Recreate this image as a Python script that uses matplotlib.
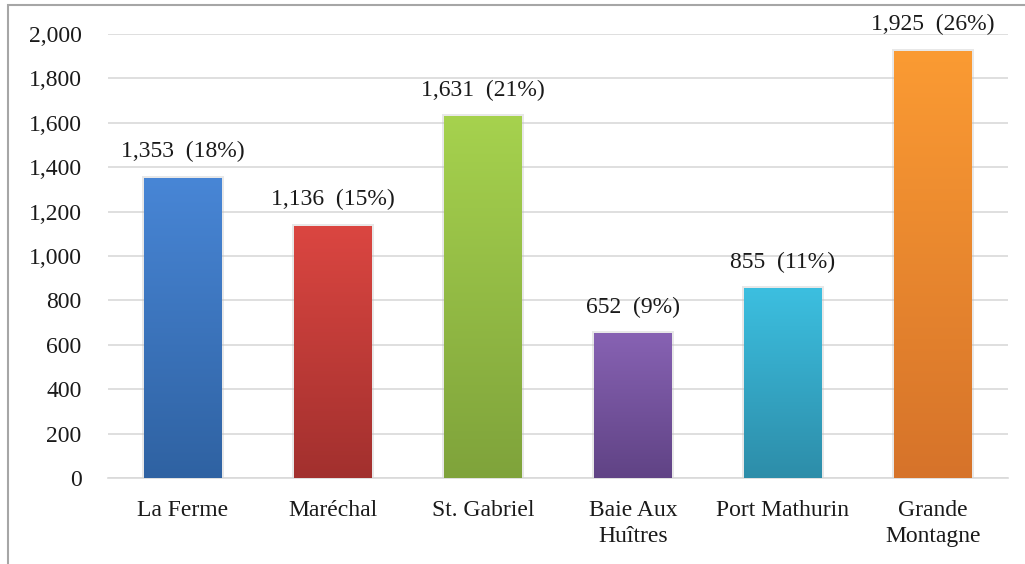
import numpy as np
import matplotlib.pyplot as plt
from matplotlib.colors import LinearSegmentedColormap
from matplotlib.patches import Rectangle
from matplotlib.ticker import FuncFormatter

plt.rcParams['font.family'] = ['Liberation Serif', 'DejaVu Serif']

sites = ['La Ferme', 'Maréchal', 'St. Gabriel', 'Baie Aux\nHuîtres', 'Port Mathurin', 'Grande\nMontagne']
counts = [1353, 1136, 1631, 652, 855, 1925]
shares = [18, 15, 21, 9, 11, 26]
top_colors = ['#4886d6', '#db4641', '#a6d24e', '#8762b3', '#3cbfe0', '#fb9b33']
bottom_colors = ['#2f62a2', '#a2302e', '#7fa33b', '#604385', '#2d8da9', '#d6732a']

fig = plt.figure(figsize=(10.25, 5.64), dpi=100)
ax = fig.add_axes([108 / 1025, 86 / 564, 900 / 1025, 444 / 564])

x = np.arange(len(sites))
width = 0.52
bars = ax.bar(x, counts, width=width, color='none', zorder=3)

# vertical gradient fill for each bar
for bar, c_top, c_bot in zip(bars, top_colors, bottom_colors):
    x0, w, h = bar.get_x(), bar.get_width(), bar.get_height()
    cmap = LinearSegmentedColormap.from_list('g', [c_bot, c_top])
    grad = np.linspace(0, 1, 256).reshape(-1, 1)
    im = ax.imshow(grad, cmap=cmap, origin='lower', aspect='auto',
                   extent=[x0, x0 + w, 0, h], zorder=3)
    im.set_clip_path(bar)
    # soft shadow
    ax.add_patch(Rectangle((x0 - 0.012, 0), w + 0.024, h + 8, facecolor='#bfbfbf',
                           alpha=0.35, edgecolor='none', zorder=2))

for xi, v, p in zip(x, counts, shares):
    ax.annotate(f'{v:,}  ({p}%)', (xi, v), xytext=(0, 11), textcoords='offset points',
                ha='center', va='bottom', fontsize=17, color='#1a1a1a',
                annotation_clip=False, zorder=4)

ax.set_xlim(-0.5, len(sites) - 0.5)
ax.set_ylim(0, 2000)
ax.set_yticks(np.arange(0, 2001, 200))
ax.yaxis.set_major_formatter(FuncFormatter(lambda v, _: f'{int(v):,}'))
ax.set_xticks(x)
ax.set_xticklabels(sites, fontsize=17, color='#1a1a1a', linespacing=1.3)
ax.tick_params(axis='y', labelsize=17, labelcolor='#1a1a1a', length=0, pad=19)
ax.tick_params(axis='x', length=0, pad=16)

ax.grid(axis='y', color='#d9d9d9', linewidth=1.2, zorder=0)
ax.set_axisbelow(True)
for side in ['top', 'right', 'left']:
    ax.spines[side].set_visible(False)
ax.spines['bottom'].set_color('#d9d9d9')
ax.spines['bottom'].set_linewidth(1.2)

# outer chart frame
fig.patches.append(Rectangle((8 / 1025, -0.1), 1.2, (559 / 564) + 0.1, transform=fig.transFigure,
                             fill=False, edgecolor='#a6a6a6', linewidth=1.5))

fig.savefig('out.png', dpi=100)
